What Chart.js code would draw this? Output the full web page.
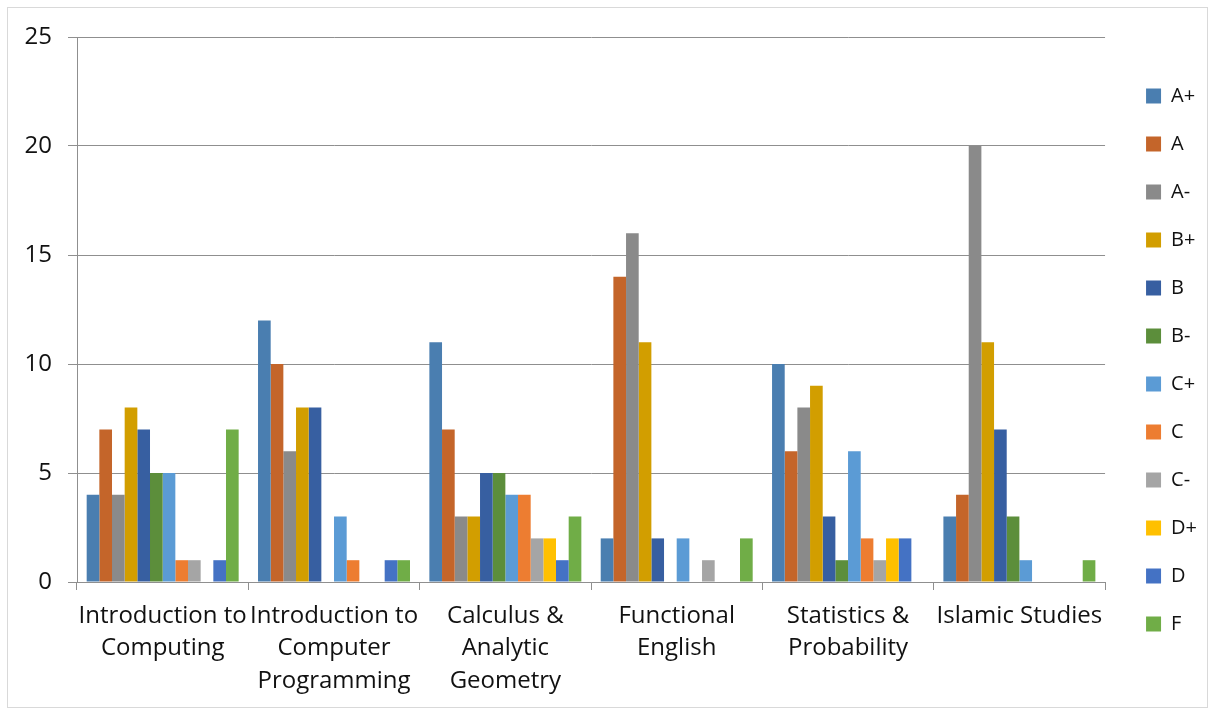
<!DOCTYPE html>
<html>
<head>
<meta charset="utf-8">
<script src="https://cdn.jsdelivr.net/npm/chart.js@4"></script>
<style>
  body { margin: 0; background: #fff; }
  canvas { display: block; }
</style>
</head>
<body>
<canvas id="gradesChart" width="1215" height="715"></canvas>
<script>
// courses on the x axis
const courses = [
    ['Introduction to', 'Computing'],
    ['Introduction to', 'Computer', 'Programming'],
    ['Calculus &', 'Analytic', 'Geometry'],
    ['Functional', 'English'],
    ['Statistics &', 'Probability'],
    ['Islamic Studies']
];

// number of students per grade, one value per course
const gradeAPlus  = [4, 12, 11, 2, 10, 3];
const gradeA      = [7, 10, 7, 14, 6, 4];
const gradeAMinus = [4, 6, 3, 16, 8, 20];
const gradeBPlus  = [8, 8, 3, 11, 9, 11];
const gradeB      = [7, 8, 5, 2, 3, 7];
const gradeBMinus = [5, 0, 5, 0, 1, 3];
const gradeCPlus  = [5, 3, 4, 2, 6, 1];
const gradeC      = [1, 1, 4, 0, 2, 0];
const gradeCMinus = [1, 0, 2, 1, 1, 0];
const gradeDPlus  = [0, 0, 2, 0, 2, 0];
const gradeD      = [1, 1, 1, 0, 2, 0];
const gradeF      = [7, 1, 3, 2, 0, 1];

const yTicks = [0, 5, 10, 15, 20, 25];

const grades = [
    ['A+', gradeAPlus, '#4a7eb0'],
    ['A', gradeA, '#c4652a'],
    ['A-', gradeAMinus, '#8a8a8a'],
    ['B+', gradeBPlus, '#d29e00'],
    ['B', gradeB, '#375fa1'],
    ['B-', gradeBMinus, '#5c8e3b'],
    ['C+', gradeCPlus, '#5b9bd5'],
    ['C', gradeC, '#ed7d31'],
    ['C-', gradeCMinus, '#a5a5a5'],
    ['D+', gradeDPlus, '#ffc000'],
    ['D', gradeD, '#4472c4'],
    ['F', gradeF, '#70ad47']
];

const gridColor = '#8f8f8f';
const fontFamily = '"Open Sans", "Liberation Sans", sans-serif';

// frame round the whole chart
const chartFrame = {
    id: 'chartFrame',
    beforeDraw: function(chart) {
        const ctx = chart.ctx;
        ctx.save();
        ctx.fillStyle = '#fff';
        ctx.fillRect(0, 0, chart.width, chart.height);
        ctx.strokeStyle = '#d9d9d9';
        ctx.lineWidth = 1;
        ctx.strokeRect(7.5, 7.5, 1200, 700);
        ctx.restore();
    }
};

// empty axis used only as spacer
function spacer(position, size) {
    return {
        type: 'linear',
        position: position,
        grid: { display: false },
        border: { display: false },
        ticks: { display: false },
        afterFit: function(scale) {
            if (position === 'top') scale.height = size;
            else scale.width = size;
        }
    };
}

new Chart(document.getElementById('gradesChart').getContext('2d'), {
    type: 'bar',
    data: {
        labels: courses,
        datasets: grades.map(g => ({
            label: g[0],
            data: g[1],
            backgroundColor: g[2],
            borderWidth: 0,
            barPercentage: 1,
            categoryPercentage: 0.887
        }))
    },
    options: {
        responsive: false,
        animation: false,
        layout: {
            padding: { left: 0, top: 20, right: 8, bottom: 15 }
        },
        scales: {
            x: {
                grid: {
                    offset: true,
                    drawOnChartArea: false,
                    color: gridColor,
                    tickLength: 8
                },
                border: { color: gridColor },
                ticks: {
                    color: '#111',
                    padding: 10,
                    maxRotation: 0,
                    autoSkip: false,
                    font: { family: fontFamily, size: 24, lineHeight: 1.35 }
                },
                afterFit: function(scale) { scale.height = 118; }
            },
            y: {
                min: 0,
                max: 25,
                afterBuildTicks: function(scale) {
                    scale.ticks = yTicks.map(v => ({ value: v }));
                },
                grid: { color: gridColor, tickLength: 9 },
                border: { color: gridColor },
                ticks: {
                    color: '#111',
                    padding: 16,
                    font: { family: fontFamily, size: 24 }
                },
                afterFit: function(scale) { scale.width = 77; }
            },
            topGap: spacer('top', 17),
            rightGap: spacer('right', 13)
        },
        plugins: {
            legend: {
                position: 'right',
                labels: {
                    color: '#111',
                    boxWidth: 15,
                    boxHeight: 15,
                    padding: 28,
                    font: { family: fontFamily, size: 20 }
                }
            },
            tooltip: { enabled: false }
        }
    },
    plugins: [chartFrame]
});
</script>
</body>
</html>
